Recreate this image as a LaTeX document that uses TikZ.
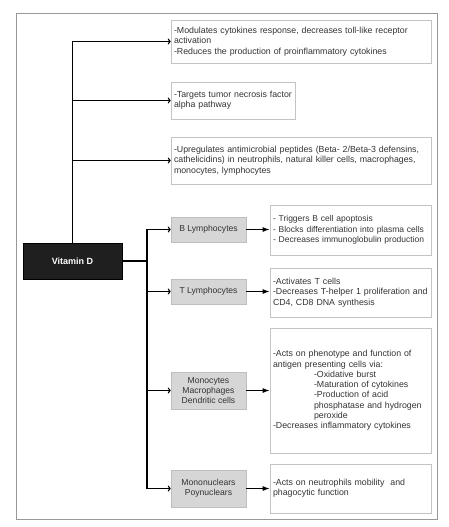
\documentclass[tikz,border=0pt]{standalone}
\usepackage{fontspec}
\setmainfont{Liberation Sans}
\usetikzlibrary{arrows.meta}
\definecolor{txt}{HTML}{333333}
\definecolor{boxline}{HTML}{C4C4C4}
\definecolor{grayfill}{HTML}{D6D6D6}
\definecolor{grayline}{HTML}{BEBEBE}
\tikzset{
  textbox/.style={draw=boxline, line width=0.7pt, rectangle, inner sep=3pt, align=left,
    font=\fontsize{8.8}{10.3}\selectfont, text=txt, anchor=center},
  cellbox/.style={draw=grayline, fill=grayfill, line width=0.7pt, rectangle, inner sep=2pt, align=center,
    font=\fontsize{8.6}{10.4}\selectfont, text=txt, anchor=center, minimum width=75pt},
  conn/.style={draw=black, line width=1.1pt},
  openarrow/.style={conn, -{To[length=3pt,width=6pt]}},
  fullarrow/.style={conn, -{Latex[length=7pt,width=5pt]}},
}
\begin{document}
\begin{tikzpicture}[x=1pt,y=-1pt]
\useasboundingbox (0,0) rectangle (449,527);
\draw[draw=gray!80, line width=0.8pt] (16,13) rectangle (437,519);

% Vitamin D
\node[draw=black, fill=black!88, text=white, font=\fontsize{9}{11}\selectfont\bfseries,
  minimum width=99pt, minimum height=36pt, inner sep=0pt] (vd) at (72.5,261) {Vitamin D};

% top text boxes
\node[textbox, minimum width=260pt, minimum height=43pt, text width=254pt] (t1) at (301,41.5)
  {-Modulates cytokines response, decreases toll-like receptor\\activation\\-Reduces the production of proinflammatory cytokines};
\node[textbox, minimum width=124pt, minimum height=37pt, text width=118pt] (t2) at (233,100.5)
  {-Targets tumor necrosis factor\\alpha pathway};
\node[textbox, minimum width=260pt, minimum height=47pt, text width=254pt] (t3) at (301,160.5)
  {-Upregulates antimicrobial peptides (Beta- 2/Beta-3 defensins,\\cathelicidins) in neutrophils, natural killer cells, macrophages,\\monocytes, lymphocytes};

% cell boxes
\node[cellbox, minimum height=25pt] (b) at (208.5,229.5) {B Lymphocytes};
\node[cellbox, minimum height=25pt] (t) at (208.5,291.5) {T Lymphocytes};
\node[cellbox, minimum height=37pt] (m) at (208.5,390.5) {Monocytes\\Macrophages\\Dendritic cells};
\node[cellbox, minimum height=37pt] (n) at (208.5,488.5) {Mononuclears\\Poynuclears};

% effect boxes
\node[textbox, font=\fontsize{8.5}{10.6}\selectfont, minimum width=161pt, minimum height=50pt, text width=155pt] (bt) at (350.5,230)
  {\mbox{- Triggers B cell apoptosis}\\\mbox{- Blocks differentiation into plasma cells}\\\mbox{- Decreases immunoglobulin production}};
\node[textbox, minimum width=161pt, minimum height=49pt, text width=155pt] (tt) at (350.5,292.5)
  {-Activates T cells\\-Decreases T-helper 1 proliferation and\\CD4, CD8 DNA synthesis};
\node[textbox, minimum width=161pt, minimum height=125pt, text width=155pt] (mt) at (350.5,390.5)
  {-Acts on phenotype and function of\\antigen presenting cells via:\\
   \hspace*{41pt}-Oxidative burst\\
   \hspace*{41pt}-Maturation of cytokines\\
   \hspace*{41pt}-Production of acid\\
   \hspace*{41pt}phosphatase and hydrogen\\
   \hspace*{41pt}peroxide\\
   -Decreases inflammatory cytokines};
\node[textbox, minimum width=161pt, minimum height=49pt, text width=155pt] (nt) at (350.5,488.5)
  {-Acts on neutrophils mobility\ \ and\\phagocytic function};

% connectors from Vitamin D upward
\draw[openarrow] (vd.north) |- (t1.west);
\draw[openarrow] (vd.north) |- (t2.west);
\draw[openarrow] (vd.north) |- (t3.west);

% connectors from Vitamin D right
\coordinate (j) at (147,261);
\draw[conn] (vd.east) -- (j);
\draw[openarrow] (j) |- (b.west);
\draw[openarrow] (j) |- (t.west);
\draw[openarrow] (j) |- (m.west);
\draw[openarrow] (j) |- (n.west);

% cell to effect arrows
\draw[fullarrow] (b.east) -- (b.east -| bt.west);
\draw[fullarrow] (t.east) -- (t.east -| tt.west);
\draw[fullarrow] (m.east) -- (m.east -| mt.west);
\draw[fullarrow] (n.east) -- (n.east -| nt.west);
\end{tikzpicture}
\end{document}
